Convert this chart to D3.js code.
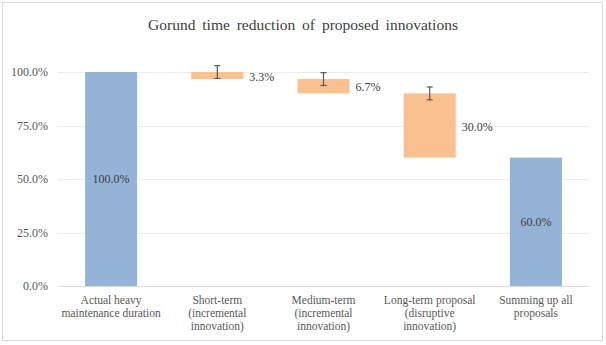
<!DOCTYPE html>
<html>
<head>
<meta charset="utf-8">
<script src="https://cdn.jsdelivr.net/npm/d3@7"></script>
<style>
  body { margin: 0; background: #fff; }
  svg { display: block; }
  svg text, svg tspan { font-family: "Liberation Serif", "Times New Roman", serif !important; }
</style>
</head>
<body>
<svg id="chart" width="606" height="345"></svg>
<script>
// waterfall data: totals in blue, reductions in orange
const categories = [
  ['Actual heavy', 'maintenance duration'],
  ['Short-term', '(incremental', 'innovation)'],
  ['Medium-term', '(incremental', 'innovation)'],
  ['Long-term proposal', '(disruptive', 'innovation)'],
  ['Summing up all', 'proposals']
]
const values = [100, 3.3, 6.7, 30, 60]
const isTotal = [true, false, false, false, true]
const errors = [0, 3, 3, 3, 0]
const yTicks = [0, 25, 50, 75, 100]

const serif = '"Liberation Serif", "Times New Roman", serif'
const svg = d3.select('#chart').attr('font-family', serif)
const margin = { top: 72, right: 17, bottom: 59, left: 58 }
const width = 606 - margin.left - margin.right
const height = 345 - margin.top - margin.bottom

// outer chart border
svg.append('rect')
  .attr('x', 2.5).attr('y', 2.5)
  .attr('width', 600).attr('height', 338)
  .attr('fill', '#fff')
  .attr('stroke', '#d9d9d9')

svg.append('text')
  .attr('x', 303).attr('y', 30)
  .attr('text-anchor', 'middle')
  .attr('font-size', 15.5)
  .attr('fill', '#404040')
  .attr('word-spacing', 3)
  .text('Gorund time reduction of proposed innovations')

const g = svg.append('g').attr('transform', `translate(${margin.left},${margin.top})`)

const x = d3.scaleBand().domain(d3.range(values.length)).range([0, width])
  .paddingInner(0.51).paddingOuter(0.255)
const y = d3.scaleLinear().domain([0, 100]).range([height, 0])

// compute start/end of every step
let running = 0
const steps = values.map((v, i) => {
  let lo, hi
  if (isTotal[i]) { lo = 0; hi = v; running = v }
  else { hi = running; lo = running - v; running = lo }
  return { i, v, lo, hi, total: isTotal[i], err: errors[i] }
})

// gridlines
g.append('g').selectAll('line')
  .data(yTicks)
  .join('line')
  .attr('x1', 0).attr('x2', width)
  .attr('y1', d => Math.round(y(d)) + 0.5).attr('y2', d => Math.round(y(d)) + 0.5)
  .attr('stroke', d => d === 0 ? '#d9d9d9' : '#ececec')

// y axis labels
const yAxis = g.append('g').call(d3.axisLeft(y).tickValues(yTicks).tickFormat(d => d.toFixed(1) + '%').tickSize(0).tickPadding(10))
yAxis.attr('font-family', serif)
yAxis.select('.domain').remove()
yAxis.selectAll('text')
  .attr('font-size', 12)
  .attr('fill', '#595959')

g.selectAll('rect.bar')
  .data(steps)
  .join('rect')
  .attr('class', 'bar')
  .attr('x', d => x(d.i))
  .attr('width', x.bandwidth())
  .attr('y', d => y(d.hi))
  .attr('height', d => y(d.lo) - y(d.hi))
  .attr('fill', d => d.total ? '#95b3d7' : '#fac090')

// error bars on the reduction steps
const eb = g.selectAll('g.err')
  .data(steps.filter(d => d.err > 0))
  .join('g')
  .attr('class', 'err')
  .attr('stroke', '#595959')
  .attr('stroke-width', 1.2)
const cx = d => x(d.i) + x.bandwidth() / 2
eb.append('line').attr('x1', cx).attr('x2', cx).attr('y1', d => y(d.hi + d.err)).attr('y2', d => y(d.hi - d.err))
eb.append('line').attr('x1', d => cx(d) - 3).attr('x2', d => cx(d) + 3).attr('y1', d => y(d.hi + d.err)).attr('y2', d => y(d.hi + d.err))
eb.append('line').attr('x1', d => cx(d) - 3).attr('x2', d => cx(d) + 3).attr('y1', d => y(d.hi - d.err)).attr('y2', d => y(d.hi - d.err))

// value labels
g.selectAll('text.val')
  .data(steps)
  .join('text')
  .attr('class', 'val')
  .attr('x', d => d.total ? cx(d) : x(d.i) + x.bandwidth() + 6)
  .attr('y', d => y((d.lo + d.hi) / 2) + (d.total ? 0 : 1))
  .attr('dy', '0.35em')
  .attr('text-anchor', d => d.total ? 'middle' : 'start')
  .attr('font-size', 12)
  .attr('fill', '#404040')
  .text(d => d.v.toFixed(1) + '%')

// category labels, wrapped on given lines
const cat = g.selectAll('text.cat')
  .data(steps)
  .join('text')
  .attr('class', 'cat')
  .attr('text-anchor', 'middle')
  .attr('font-size', 11.5)
  .attr('fill', '#595959')
cat.selectAll('tspan')
  .data(d => categories[d.i].map(t => ({ t, i: d.i })))
  .join('tspan')
  .attr('x', d => x(d.i) + x.bandwidth() / 2)
  .attr('y', (d, j) => height + 18 + j * 13)
  .text(d => d.t)
</script>
</body>
</html>
